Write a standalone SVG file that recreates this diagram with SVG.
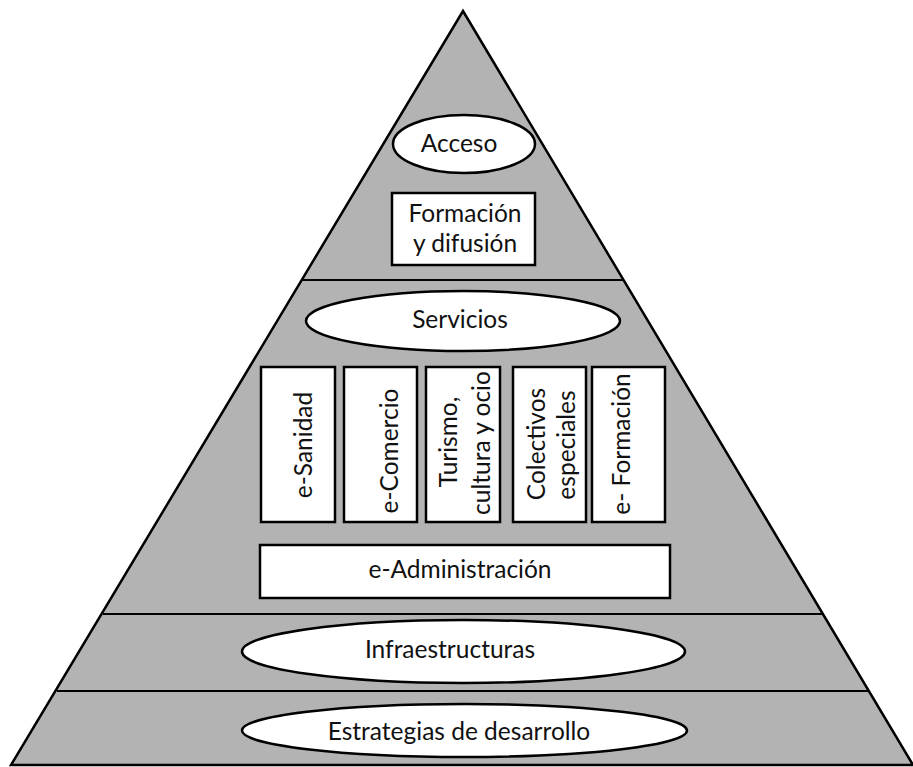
<svg xmlns="http://www.w3.org/2000/svg" width="913" height="767" viewBox="0 0 913 767">
<style>
.pyr{fill:#b3b3b3;stroke:#000;stroke-width:2.5;stroke-linejoin:miter}
.sep{stroke:#000;stroke-width:2;fill:none}
.box{fill:#fff;stroke:#000;stroke-width:2.5}
.ell{fill:#fff;stroke:#000;stroke-width:2.5}
text{font-family:Lato,"Open Sans","Liberation Sans",sans-serif;font-size:24.5px;fill:#111;text-anchor:middle}
</style>
<rect width="913" height="767" fill="#fff"/>
<g id="pyramid">
<polygon class="pyr" points="463,11 913,765 11,765"/>
</g>
<g id="connectors">
<line class="sep" x1="302" y1="280" x2="624" y2="280"/>
<line class="sep" x1="103" y1="614" x2="824" y2="614"/>
<line class="sep" x1="57" y1="691" x2="870" y2="691"/>
</g>
<g id="acceso">
<ellipse class="ell" cx="464" cy="144" rx="71" ry="29"/>
<text x="459" y="152">Acceso</text>
</g>
<g id="formacion-difusion">
<rect class="box" x="392" y="193" width="143" height="72"/>
<text x="465" y="222">Formación</text>
<text x="465" y="252">y difusión</text>
</g>
<g id="servicios">
<ellipse class="ell" cx="463" cy="321" rx="157" ry="30"/>
<text x="460" y="328">Servicios</text>
</g>
<g id="e-sanidad">
<rect class="box" x="261" y="367" width="74" height="155"/>
<text transform="translate(312,445) rotate(-90)">e-Sanidad</text>
</g>
<g id="e-comercio">
<rect class="box" x="344" y="367" width="73" height="155"/>
<text transform="translate(398,451) rotate(-90)">e-Comercio</text>
</g>
<g id="turismo">
<rect class="box" x="426" y="367" width="74" height="155"/>
<text transform="translate(457,442) rotate(-90)">Turismo,</text>
<text transform="translate(490,443) rotate(-90)">cultura y ocio</text>
</g>
<g id="colectivos">
<rect class="box" x="513" y="367" width="73" height="155"/>
<text transform="translate(545,444) rotate(-90)">Colectivos</text>
<text transform="translate(575,445) rotate(-90)">especiales</text>
</g>
<g id="e-formacion">
<rect class="box" x="592" y="367" width="73" height="155"/>
<text transform="translate(630,444) rotate(-90)">e- Formación</text>
</g>
<g id="e-administracion">
<rect class="box" x="260" y="545" width="410" height="53"/>
<text x="460" y="578">e-Administración</text>
</g>
<g id="infraestructuras">
<ellipse class="ell" cx="463.5" cy="651.5" rx="221.5" ry="31.5"/>
<text x="450" y="658">Infraestructuras</text>
</g>
<g id="estrategias">
<ellipse class="ell" cx="464.5" cy="730.5" rx="222.5" ry="26.5"/>
<text x="459" y="740">Estrategias de desarrollo</text>
</g>
</svg>
